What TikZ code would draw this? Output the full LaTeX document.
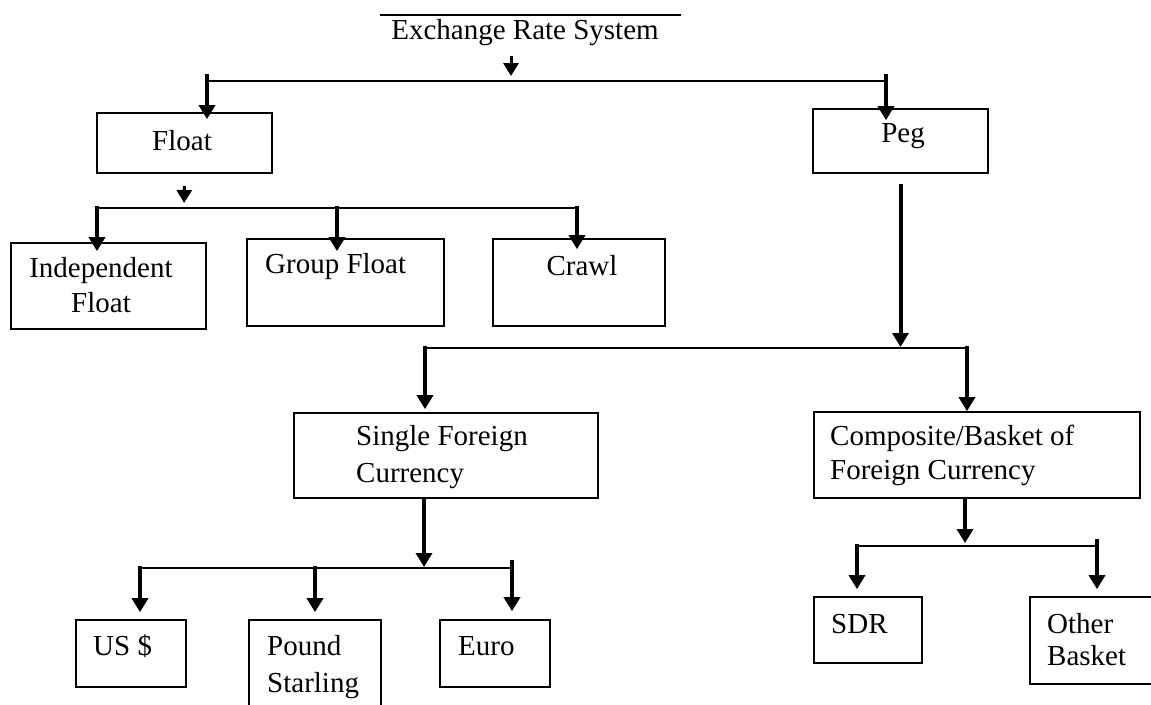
\documentclass[tikz,border=0pt]{standalone}
\usepackage{fontspec}
\setmainfont{Liberation Serif}
\usetikzlibrary{arrows.meta}

\begin{document}
\begin{tikzpicture}[x=1pt,y=-1pt,
  box/.style={draw, line width=1.7pt, inner sep=0pt, rectangle},
  lbl/.style={font=\fontsize{29}{36}\selectfont, inner sep=0pt},
  bar/.style={line width=1.8pt},
  feed/.style={line width=4pt, -{Triangle[width=16pt,length=14pt]}},
  stub/.style={line width=3pt, -{Triangle[width=15pt,length=13pt]}}]

\clip (0,0) rectangle (1151,704);
\fill[white] (0,0) rectangle (1151,704);

% ---- boxes ----
\node[box, minimum width=175pt, minimum height=60pt] (float) at (184.5,143) {};
\node[box, minimum width=175pt, minimum height=64pt] (peg) at (900.5,141) {};
\node[box, minimum width=195pt, minimum height=86pt] (indep) at (108.5,286) {};
\node[box, minimum width=197pt, minimum height=87pt] (group) at (345.5,282.5) {};
\node[box, minimum width=172pt, minimum height=87pt] (crawl) at (579,282.5) {};
\node[box, minimum width=304pt, minimum height=85pt] (single) at (446,455.5) {};
\node[box, minimum width=326pt, minimum height=86pt] (basket) at (977,455) {};
\node[box, minimum width=110pt, minimum height=67pt] (usd) at (131,653.5) {};
\node[box, minimum width=132pt, minimum height=90pt] (pound) at (315,665) {};
\node[box, minimum width=110pt, minimum height=67pt] (euro) at (495,653.5) {};
\node[box, minimum width=108pt, minimum height=66pt] (sdr) at (868,630) {};
\node[box, minimum width=125pt, minimum height=87pt] (other) at (1092.5,640.5) {};

% ---- labels (multi-line labels sit on the baseline of their last line) ----
\node[lbl, anchor=base] (title) at (525,39) {Exchange Rate System};
\node[lbl, anchor=base] (float-t) at (182,150) {Float};
\node[lbl, anchor=base] (peg-t) at (903,142) {Peg};
\node[lbl, anchor=base, align=center, font=\fontsize{29}{35}\selectfont] (indep-t) at (101,312) {Independent\\Float};
\node[lbl, anchor=base west] (group-t) at (265,273) {Group Float};
\node[lbl, anchor=base] (crawl-t) at (582,275) {Crawl};
\node[lbl, anchor=base west, align=left, font=\fontsize{29}{37}\selectfont] (single-t) at (356,482) {Single Foreign\\Currency};
\node[lbl, anchor=base west, align=left, font=\fontsize{29}{34}\selectfont] (basket-t) at (830,479) {Composite/Basket of\\Foreign Currency};
\node[lbl, anchor=base west] (usd-t) at (93,655) {US \$};
\node[lbl, anchor=base west, align=left, font=\fontsize{29}{37}\selectfont] (pound-t) at (267,692) {Pound\\Starling};
\node[lbl, anchor=base west] (euro-t) at (458,655) {Euro};
\node[lbl, anchor=base west] (sdr-t) at (831,633) {SDR};
\node[lbl, anchor=base west, align=left, font=\fontsize{29}{32}\selectfont] (other-t) at (1047,665) {Other\\Basket};

% ---- junction points ----
\coordinate (ovl) at (380,15);
\coordinate (ovr) at (681,15);
\coordinate (t-out) at (511,56);
\coordinate (t-in) at (511,81);
\coordinate (b1l) at (207,81);
\coordinate (b1r) at (886,81);
\coordinate (b2j) at (184,208);
\coordinate (b2l) at (97,208);
\coordinate (b2m) at (337,208);
\coordinate (b2r) at (577,208);
\coordinate (b3l) at (425,348);
\coordinate (b3r) at (967,348);
\coordinate (b4j) at (424,568);
\coordinate (b4l) at (140,568);
\coordinate (b4m) at (315,568);
\coordinate (b4r) at (512,568);
\coordinate (b5j) at (965,546);
\coordinate (b5l) at (857,546);
\coordinate (b5r) at (1097,546);

% ---- title level ----
\draw[bar] (ovl) -- (ovr);
\draw[stub, shorten >=5pt] (t-out) -- (t-in);
\draw[bar] (b1l) -- (b1r);
\draw[feed, shorten >=-7pt] ([yshift=7pt]b1l) -- (b1l |- float.north);
\draw[feed, shorten >=-12pt] ([yshift=7pt]b1r) -- (b1r |- peg.north);

% ---- float branch ----
\draw[stub, shorten <=12pt, shorten >=5pt] (float.south) -- (b2j);
\draw[bar] (b2l) -- (b2r);
\draw[feed, shorten >=-9pt] ([yshift=2pt]b2l) -- (b2l |- indep.north);
\draw[feed, shorten >=-13pt] ([yshift=2pt]b2m) -- (b2m |- group.north);
\draw[feed, shorten >=-11pt] ([yshift=2pt]b2r) -- (b2r |- crawl.north);

% ---- peg branch ----
\draw[feed, shorten <=10pt, shorten >=1pt] (peg.south) -- (peg.south |- b3r);
\draw[bar] (b3l) -- (b3r);
\draw[feed, shorten >=3pt] ([yshift=2pt]b3l) -- (b3l |- single.north);
\draw[feed] ([yshift=2pt]b3r) -- (b3r |- basket.north);

% ---- single currency ----
\draw[feed, shorten >=1pt] (single.south -| b4j) -- (b4j);
\draw[bar] (b4l) -- (b4r);
\draw[feed, shorten >=7pt] ([yshift=2pt]b4l) -- (b4l |- usd.north);
\draw[feed, shorten >=7pt] ([yshift=2pt]b4m) -- (b4m |- pound.north);
\draw[feed, shorten >=8pt] ([yshift=8pt]b4r) -- (b4r |- euro.north);

% ---- basket ----
\draw[feed, shorten >=3pt] (basket.south -| b5j) -- (b5j);
\draw[bar] (b5l) -- (b5r);
\draw[feed, shorten >=7pt] ([yshift=2pt]b5l) -- (b5l |- sdr.north);
\draw[feed, shorten >=7pt] ([yshift=7pt]b5r) -- (b5r |- other.north);
\end{tikzpicture}
\end{document}
